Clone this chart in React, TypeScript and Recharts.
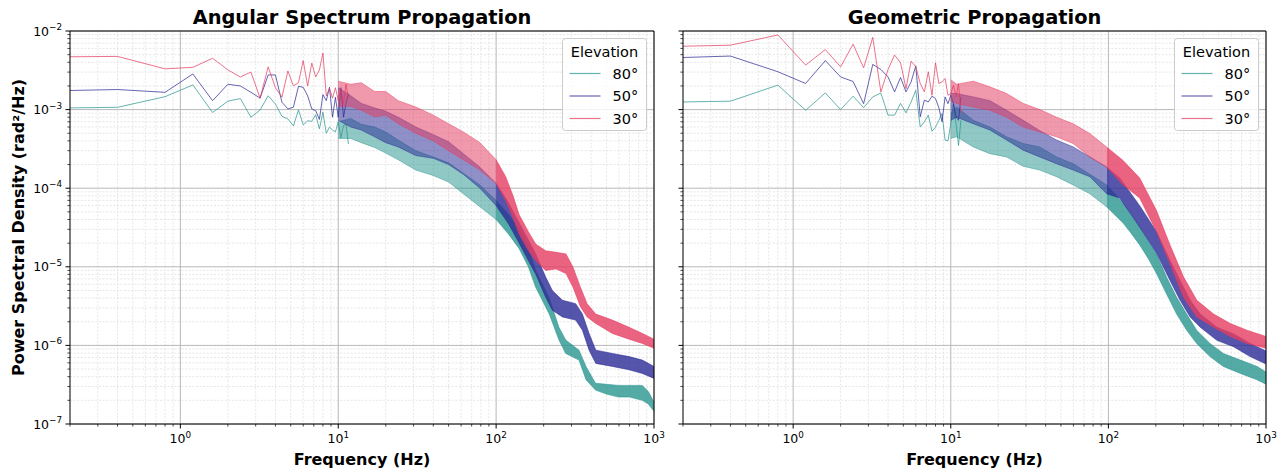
import React from 'react';
import { ComposedChart, Line, Area, XAxis, YAxis, CartesianGrid, ReferenceArea } from 'recharts';

const FONT = '"DejaVu Sans", "Liberation Sans", sans-serif';

// ---------- axes ----------
const X_MAJOR = [1, 10, 100, 1000];
const Y_MAJOR = [1e-7, 1e-6, 1e-5, 1e-4, 1e-3, 1e-2];
const MULT = [2, 3, 4, 5, 6, 7, 8, 9];
const X_MINOR = [0.1, 1, 10, 100]
  .flatMap((d) => MULT.map((m) => +(d * m).toPrecision(3)))
  .filter((v) => v >= 0.2 && v < 1000);
const Y_MINOR = [1e-7, 1e-6, 1e-5, 1e-4, 1e-3].flatMap((d) => MULT.map((m) => +(d * m).toPrecision(3)));
const X_TICKS = [...X_MINOR, ...X_MAJOR].sort((a, b) => a - b);
const Y_TICKS = [...Y_MINOR, ...Y_MAJOR].sort((a, b) => a - b);

// ---------- low-frequency grid (Hz) ----------
const LOW_F = [0.2, 0.4, 0.8, 1.2, 1.6, 2.0, 2.4, 2.8, 3.2, 3.6, 4.0, 4.4, 4.8, 5.2, 5.6, 6.0, 6.4, 6.8, 7.2, 7.6, 8.0, 8.4, 8.8, 9.2, 9.6, 10.0, 10.4, 10.8, 11.2, 11.6];

// ---------- Angular Spectrum Propagation ----------
const ASP_80_LOW = [1.05e-3, 1.07e-3, 1.46e-3, 2.06e-3, 9.2e-4, 1.28e-3, 1.38e-3, 8.0e-4, 9.9e-4, 1.5e-3, 1.18e-3, 8.2e-4, 7.6e-4, 6.2e-4, 9.9e-4, 6.4e-4, 7.2e-4, 7.1e-4, 8.6e-4, 5.7e-4, 9.25e-4, 5.0e-4, 6.0e-4, 5.5e-4, 5.2e-4, 7.0e-4, 4.4e-4, 6.3e-4, 6.5e-4, 3.65e-4];
const ASP_50_LOW = [1.75e-3, 1.8e-3, 1.66e-3, 2.84e-3, 1.3e-3, 2.1e-3, 2.0e-3, 1.66e-3, 1.4e-3, 2.76e-3, 2.76e-3, 1.24e-3, 1.02e-3, 1.07e-3, 1.98e-3, 1.92e-3, 1.5e-3, 1.02e-3, 9.7e-4, 7.5e-4, 1.55e-3, 1.3e-3, 1.92e-3, 8.0e-4, 1.43e-3, 8.0e-4, 1.9e-3, 8.0e-4, 1.2e-3, 1.6e-3];
const ASP_30_LOW = [4.7e-3, 4.75e-3, 3.3e-3, 3.45e-3, 4.5e-3, 3.2e-3, 2.6e-3, 3.0e-3, 1.4e-3, 3.5e-3, 1.9e-3, 1.44e-3, 3.1e-3, 2.0e-3, 2.2e-3, 4.2e-3, 2.0e-3, 3.9e-3, 2.6e-3, 3.2e-3, 5.25e-3, 1.5e-3, 1.85e-3, 1.4e-3, 1.9e-3, 1.3e-3, 1.75e-3, 1.2e-3, 2.1e-3, 1.4e-3];

const ASP_80_BAND_F = [10, 12, 14, 17, 20, 24, 31, 40, 50, 62, 79, 100, 120, 140, 160, 178, 217, 250, 276, 335, 371, 426, 500, 596, 700, 842, 920, 1000];
const ASP_80_HI = [7.0e-4, 7.7e-4, 6.5e-4, 6.0e-4, 5.2e-4, 4.1e-4, 3.0e-4, 2.5e-4, 2.1e-4, 1.55e-4, 1.1e-4, 7.0e-5, 4.6e-5, 3.0e-5, 1.7e-5, 9.0e-6, 4.0e-6, 1.7e-6, 1.17e-6, 8.7e-7, 5.4e-7, 3.3e-7, 3.2e-7, 3.1e-7, 3.1e-7, 3.1e-7, 2.6e-7, 1.9e-7];
const ASP_80_LO = [4.3e-4, 4.3e-4, 3.8e-4, 3.3e-4, 2.8e-4, 2.3e-4, 1.7e-4, 1.45e-4, 1.2e-4, 8.5e-5, 5.8e-5, 4.0e-5, 2.6e-5, 1.7e-5, 1.0e-5, 5.5e-6, 2.5e-6, 1.17e-6, 7.9e-7, 6.5e-7, 3.65e-7, 2.7e-7, 2.4e-7, 2.2e-7, 2.2e-7, 2.0e-7, 1.8e-7, 1.45e-7];

const ASP_50_BAND_F = [10, 12, 14, 17, 20, 24, 31, 40, 50, 62, 79, 100, 120, 140, 160, 178, 206, 227, 263, 319, 352, 388, 428, 545, 695, 844, 1000];
const ASP_50_HI = [1.9e-3, 1.5e-3, 1.2e-3, 1.05e-3, 9.5e-4, 8.0e-4, 6.0e-4, 4.8e-4, 3.9e-4, 2.75e-4, 1.85e-4, 1.15e-4, 6.5e-5, 3.6e-5, 2.2e-5, 1.46e-5, 7.4e-6, 5.0e-6, 3.75e-6, 3.4e-6, 2.5e-6, 1.42e-6, 8.7e-7, 7.9e-7, 7.2e-7, 6.5e-7, 5.4e-7];
const ASP_50_LO = [7.3e-4, 6.0e-4, 5.5e-4, 4.5e-4, 3.8e-4, 3.35e-4, 2.6e-4, 2.4e-4, 2.0e-4, 1.5e-4, 1.0e-4, 6.0e-5, 3.5e-5, 2.0e-5, 1.2e-5, 8.1e-6, 4.1e-6, 2.8e-6, 2.3e-6, 2.1e-6, 1.56e-6, 8.7e-7, 5.9e-7, 5.4e-7, 4.9e-7, 4.4e-7, 3.8e-7];

const ASP_30_BAND_F = [10, 12, 14, 17, 20, 24, 31, 40, 50, 62, 79, 100, 115, 128, 140, 160, 178, 206, 240, 277, 307, 342, 377, 428, 545, 695, 844, 1000];
const ASP_30_HI = [2.3e-3, 2.1e-3, 2.2e-3, 1.7e-3, 1.7e-3, 1.3e-3, 1.08e-3, 8.5e-4, 6.6e-4, 5.2e-4, 3.8e-4, 2.3e-4, 1.4e-4, 8.0e-5, 4.6e-5, 2.8e-5, 1.95e-5, 1.6e-5, 1.53e-5, 1.46e-5, 9.9e-6, 5.5e-6, 3.4e-6, 2.5e-6, 2.1e-6, 1.7e-6, 1.42e-6, 1.2e-6];
const ASP_30_LO = [1.1e-3, 1.1e-3, 9.8e-4, 8.1e-4, 8.5e-4, 6.6e-4, 5.0e-4, 4.0e-4, 3.0e-4, 2.3e-4, 1.7e-4, 1.15e-4, 7.0e-5, 4.2e-5, 2.6e-5, 1.6e-5, 1.2e-5, 9.0e-6, 9.4e-6, 8.2e-6, 5.5e-6, 3.1e-6, 2.3e-6, 1.9e-6, 1.42e-6, 1.2e-6, 1.06e-6, 9.2e-7];

// ---------- Geometric Propagation ----------
const GEO_80_LOW = [1.25e-3, 1.28e-3, 2.05e-3, 9.8e-4, 1.63e-3, 1.0e-3, 1.48e-3, 1.06e-3, 1.45e-3, 1.63e-3, 8.5e-4, 8.5e-4, 1.2e-3, 9.1e-4, 1.25e-3, 1.76e-3, 6.0e-4, 7.0e-4, 8.5e-4, 5.3e-4, 6.0e-4, 7.3e-4, 8.9e-4, 4.1e-4, 4.0e-4, 6.6e-4, 1.18e-3, 6.6e-4, 3.5e-4, 7.3e-4];
const GEO_50_LOW = [4.6e-3, 4.8e-3, 3.03e-3, 2.15e-3, 4.2e-3, 2.6e-3, 2.28e-3, 1.19e-3, 3.76e-3, 3.24e-3, 2.6e-3, 1.68e-3, 2.56e-3, 1.68e-3, 2.25e-3, 3.6e-3, 8.1e-4, 1.32e-3, 1.25e-3, 1.48e-3, 1.38e-3, 1.06e-3, 7.0e-4, 1.45e-3, 1.19e-3, 1.52e-3, 1.19e-3, 8.1e-4, 7.3e-4, 1.45e-3];
const GEO_30_LOW = [6.4e-3, 6.6e-3, 8.9e-3, 3.68e-3, 5.8e-3, 3.5e-3, 6.8e-3, 3.4e-3, 8.3e-3, 1.68e-3, 3.24e-3, 4.94e-3, 3.94e-3, 1.85e-3, 4.14e-3, 3.5e-3, 2.15e-3, 1.68e-3, 3.03e-3, 1.52e-3, 3.94e-3, 2.15e-3, 2.25e-3, 2.49e-3, 1.52e-3, 1.6e-3, 2.04e-3, 1.45e-3, 2.13e-3, 9.0e-4];

const GEO_80_BAND_F = [10, 10.9, 13.9, 17.7, 22.6, 28.8, 36.7, 46.9, 59.8, 76.3, 97.4, 124, 137, 158, 180, 202, 234, 271, 314, 363, 441, 536, 688, 877, 1000];
const GEO_80_HI = [9.0e-4, 1.08e-3, 7.3e-4, 6.0e-4, 4.5e-4, 3.7e-4, 3.35e-4, 2.5e-4, 2.05e-4, 1.5e-4, 1.1e-4, 6.5e-5, 4.8e-5, 3.2e-5, 2.1e-5, 1.46e-5, 7.4e-6, 4.1e-6, 2.5e-6, 1.56e-6, 1.06e-6, 7.9e-7, 6.5e-7, 5.4e-7, 4.6e-7];
const GEO_80_LO = [4.3e-4, 4.5e-4, 3.35e-4, 2.75e-4, 2.5e-4, 1.9e-4, 1.7e-4, 1.4e-4, 1.1e-4, 8.5e-5, 5.8e-5, 3.6e-5, 2.8e-5, 1.9e-5, 1.25e-5, 8.2e-6, 4.5e-6, 2.5e-6, 1.56e-6, 1.06e-6, 7.2e-7, 5.4e-7, 4.4e-7, 3.65e-7, 3.2e-7];

const GEO_50_BAND_F = [10, 10.9, 13.9, 17.7, 22.6, 28.8, 36.7, 46.9, 59.8, 76.3, 97.4, 118, 158, 202, 246, 285, 330, 383, 488, 623, 793, 1000];
const GEO_50_HI = [1.6e-3, 1.6e-3, 1.45e-3, 1.3e-3, 9.8e-4, 7.3e-4, 5.4e-4, 4.1e-4, 3.35e-4, 2.5e-4, 1.86e-4, 1.35e-4, 6.0e-5, 2.8e-5, 1.2e-5, 6.7e-6, 3.75e-6, 2.5e-6, 1.7e-6, 1.4e-6, 1.06e-6, 8.5e-7];
const GEO_50_LO = [7.3e-4, 8.0e-4, 6.6e-4, 5.5e-4, 4.1e-4, 3.05e-4, 2.5e-4, 2.05e-4, 1.7e-4, 1.4e-4, 8.5e-5, 7.5e-5, 3.2e-5, 1.5e-5, 6.7e-6, 3.75e-6, 2.3e-6, 1.7e-6, 1.16e-6, 9.6e-7, 7.2e-7, 5.8e-7];

const GEO_30_BAND_F = [10, 10.9, 13.9, 17.7, 22.6, 28.8, 36.7, 46.9, 59.8, 76.3, 97.4, 124, 158, 202, 246, 300, 364, 465, 594, 757, 1000];
const GEO_30_HI = [2.4e-3, 2.1e-3, 2.3e-3, 1.95e-3, 1.6e-3, 1.2e-3, 1.0e-3, 8.0e-4, 6.6e-4, 4.95e-4, 3.35e-4, 2.25e-4, 1.35e-4, 5.2e-5, 1.9e-5, 7.4e-6, 3.75e-6, 2.5e-6, 1.9e-6, 1.56e-6, 1.3e-6];
const GEO_30_LO = [1.3e-3, 1.2e-3, 1.08e-3, 9.8e-4, 8.0e-4, 6.0e-4, 5.2e-4, 4.5e-4, 3.7e-4, 2.5e-4, 1.86e-4, 1.1e-4, 7.5e-5, 2.8e-5, 1.1e-5, 4.1e-6, 2.3e-6, 1.7e-6, 1.3e-6, 1.06e-6, 9.2e-7];

// ---------- series meta ----------
const SERIES_NAMES = ['80°', '50°', '30°'];
const SERIES_COLORS = ['#29958f', '#2b2a96', '#e53c60'];

const PANELS = [
  {
    title: 'Angular Spectrum Propagation',
    low: [ASP_80_LOW, ASP_50_LOW, ASP_30_LOW],
    bands: [
      [ASP_80_BAND_F, ASP_80_LO, ASP_80_HI],
      [ASP_50_BAND_F, ASP_50_LO, ASP_50_HI],
      [ASP_30_BAND_F, ASP_30_LO, ASP_30_HI],
    ],
  },
  {
    title: 'Geometric Propagation',
    low: [GEO_80_LOW, GEO_50_LOW, GEO_30_LOW],
    bands: [
      [GEO_80_BAND_F, GEO_80_LO, GEO_80_HI],
      [GEO_50_BAND_F, GEO_50_LO, GEO_50_HI],
      [GEO_30_BAND_F, GEO_30_LO, GEO_30_HI],
    ],
  },
];

const expStr = (v: number) => {
  const e = Math.round(Math.log10(v));
  return e < 0 ? '\u2212' + String(-e) : String(e);
};

const XTick = (p: any) => {
  const { x, y, payload } = p;
  const v = payload.value;
  const major = X_MAJOR.includes(v);
  return (
    <g>
      <line x1={x} x2={x} y1={y} y2={y + (major ? 4.5 : 2.6)} stroke="#000" strokeWidth={major ? 1 : 0.7} />
      {major && (
        <text x={x} y={y + 19} textAnchor="middle" fontFamily={FONT} fontSize={12.5} fill="#000">
          10<tspan dy={-5.5} fontSize={8.8}>{expStr(v)}</tspan>
        </text>
      )}
    </g>
  );
};

const makeYTick = (labels: boolean) => (p: any) => {
  const { x, y, payload } = p;
  const v = payload.value;
  const major = Y_MAJOR.includes(v);
  return (
    <g>
      <line x1={x - (major ? 4.5 : 2.6)} x2={x} y1={y} y2={y} stroke="#000" strokeWidth={major ? 1 : 0.7} />
      {labels && major && (
        <text x={x - 8} y={y + 4.5} textAnchor="end" fontFamily={FONT} fontSize={12.5} fill="#000">
          10<tspan dy={-5.5} fontSize={8.8}>{expStr(v)}</tspan>
        </text>
      )}
    </g>
  );
};

const SPLIT_F = 90;

function Panel({ panel, width, yWidth, right, labels }: any) {
  const items: any[] = [];
  panel.low.forEach((vals: number[], i: number) => {
    const color = SERIES_COLORS[i];
    const [bf, lo, hi] = panel.bands[i];
    const band = bf.map((f: number, k: number) => ({ f, r: [lo[k], hi[k]] }));
    const k = bf.findIndex((f: number) => f >= SPLIT_F);
    const mid = band.slice(0, k + 1);
    const high = band.slice(k);
    const low = LOW_F.map((f, j) => ({ f, v: vals[j] }));
    items.push(
      <Area key={`m${i}`} data={mid} dataKey="r" type="linear" stroke={color} strokeOpacity={0.6} strokeWidth={0.8}
        fill={color} fillOpacity={0.52} isAnimationActive={false} dot={false} activeDot={false} zIndex={110 + i * 10} />,
      <Area key={`h${i}`} data={high} dataKey="r" type="linear" stroke={color} strokeOpacity={0.7} strokeWidth={0.8}
        fill={color} fillOpacity={0.8} isAnimationActive={false} dot={false} activeDot={false} zIndex={111 + i * 10} />,
      <Line key={`l${i}`} data={low} dataKey="v" type="linear" stroke={color} strokeOpacity={0.72} strokeWidth={1}
        dot={false} activeDot={false} isAnimationActive={false} zIndex={112 + i * 10} />
    );
  });
  return (
    <ComposedChart width={width} height={472} margin={{ top: 31, right, bottom: 0, left: 0 }}>
      <CartesianGrid horizontalValues={Y_MINOR} verticalValues={X_MINOR} stroke="#e0e0e0" strokeWidth={0.8} strokeDasharray="2 1.6" />
      <CartesianGrid horizontalValues={Y_MAJOR} verticalValues={X_MAJOR} stroke="#b8b8b8" strokeWidth={1} />
      <XAxis dataKey="f" type="number" scale="log" domain={[0.2, 1000]} allowDataOverflow ticks={X_TICKS} interval={0}
        tick={XTick} tickLine={false} axisLine={false} tickSize={0} tickMargin={0} height={48} />
      <YAxis type="number" scale="log" domain={[1e-7, 1e-2]} allowDataOverflow ticks={Y_TICKS} interval={0}
        tick={makeYTick(labels)} tickLine={false} axisLine={false} tickSize={0} tickMargin={0} width={yWidth} />
      {items}
      <ReferenceArea x1={0.2} x2={1000} y1={1e-7} y2={1e-2} fill="none" stroke="#000" strokeWidth={1} ifOverflow="visible" zIndex={600} />
    </ComposedChart>
  );
}

function LegendBox({ dx }: { dx: number }) {
  const x0 = 562.5 + dx;
  return (
    <g>
      <rect x={x0} y={38.5} width={84} height={92} rx={3} fill="#fff" fillOpacity={0.8} stroke="#cccccc" strokeWidth={1} />
      <text x={x0 + 42} y={57} textAnchor="middle" fontFamily={FONT} fontSize={14.5} fill="#000">Elevation</text>
      {SERIES_NAMES.map((n, i) => (
        <g key={n}>
          <line x1={x0 + 7} x2={x0 + 38} y1={73.5 + i * 22.5} y2={73.5 + i * 22.5} stroke={SERIES_COLORS[i]} strokeOpacity={0.72} strokeWidth={1.2} />
          <text x={x0 + 50} y={73.5 + i * 22.5 + 5} fontFamily={FONT} fontSize={14.5} fill="#000">{n}</text>
        </g>
      ))}
    </g>
  );
}

export default function App() {
  return (
    <div style={{ position: 'absolute', left: 0, top: 0, width: 1284, height: 472, background: '#fff', overflow: 'hidden' }}>
      <div style={{ position: 'absolute', left: 0, top: 0 }}>
        <Panel panel={PANELS[0]} width={676} yWidth={70} right={22} labels={true} />
      </div>
      <div style={{ position: 'absolute', left: 660, top: 0 }}>
        <Panel panel={PANELS[1]} width={624} yWidth={23} right={18} labels={false} />
      </div>
      <svg width={1284} height={472} style={{ position: 'absolute', left: 0, top: 0, pointerEvents: 'none' }}>
        <text x={362} y={24} textAnchor="middle" fontFamily={FONT} fontWeight="bold" fontSize={19.4} fill="#000">{PANELS[0].title}</text>
        <text x={974.5} y={24} textAnchor="middle" fontFamily={FONT} fontWeight="bold" fontSize={19.4} fill="#000">{PANELS[1].title}</text>
        <text x={362} y={464.5} textAnchor="middle" fontFamily={FONT} fontWeight="bold" fontSize={16} fill="#000">Frequency (Hz)</text>
        <text x={974.5} y={464.5} textAnchor="middle" fontFamily={FONT} fontWeight="bold" fontSize={16} fill="#000">Frequency (Hz)</text>
        <text transform="translate(23.5,227.5) rotate(-90)" textAnchor="middle" fontFamily={FONT} fontWeight="bold" fontSize={16} fill="#000">
          Power Spectral Density (rad²/Hz)
        </text>
        <LegendBox dx={0} />
        <LegendBox dx={612} />
      </svg>
    </div>
  );
}
